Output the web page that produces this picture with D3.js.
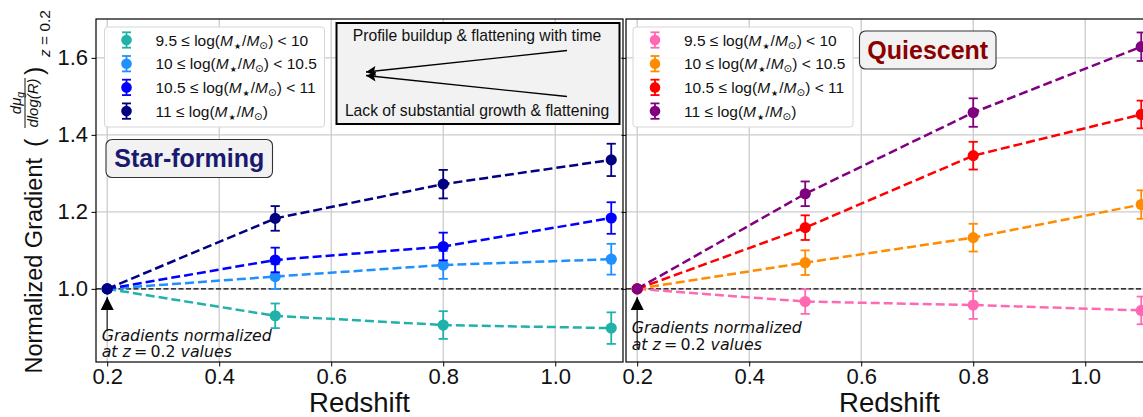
<!DOCTYPE html>
<html lang="en">
<head>
<meta charset="UTF-8">
<title>gradient-evolution</title>
<script src="https://d3js.org/d3.v7.min.js"></script>
<style>
    body { margin: 0; background: #fff; }
    svg { font-family: "Liberation Sans", Arial, Helvetica, sans-serif; }
    .note { font-family: "DejaVu Sans", sans-serif; font-style: italic; }
</style>
</head>
<body>
<script>

// ---- data ----
const redshift = [0.2, 0.5, 0.8, 1.1];
const binLabels = [["9.5", "10"], ["10", "10.5"], ["10.5", "11"], ["11", null]];

const sfColors = ["#20b2aa", "#1e90ff", "#0000ff", "#000080"];
const sfValues = [
    [1.0, 0.930, 0.906, 0.898],
    [1.0, 1.032, 1.062, 1.077],
    [1.0, 1.075, 1.110, 1.184],
    [1.0, 1.183, 1.272, 1.335]
];
const sfErrors = [
    [0, 0.032, 0.036, 0.041],
    [0, 0.032, 0.036, 0.040],
    [0, 0.032, 0.036, 0.041],
    [0, 0.032, 0.037, 0.042]
];

const qColors = ["#ff69b4", "#ff8c00", "#ff0000", "#800080"];
const qValues = [
    [1.0, 0.967, 0.958, 0.944],
    [1.0, 1.068, 1.133, 1.219],
    [1.0, 1.159, 1.346, 1.453],
    [1.0, 1.247, 1.458, 1.629]
];
const qErrors = [
    [0, 0.032, 0.036, 0.036],
    [0, 0.032, 0.036, 0.037],
    [0, 0.032, 0.036, 0.036],
    [0, 0.032, 0.037, 0.037]
];

const xTicks = [0.2, 0.4, 0.6, 0.8, 1.0];
const yTicks = [1.0, 1.2, 1.4, 1.6];

// ---- layout ----
const width = 1143, height = 417;
const plotTop = 19, plotBottom = 362, pw = 527;
const gridColor = "#cbcbcb";

const svg = d3.select("body").append("svg")
    .attr("width", width).attr("height", height);

const defs = svg.append("defs");
defs.append("marker").attr("id", "head")
    .attr("viewBox", "0 0 10 10").attr("refX", 10).attr("refY", 5)
    .attr("markerUnits", "userSpaceOnUse")
    .attr("markerWidth", 13).attr("markerHeight", 10).attr("orient", "auto")
    .append("path").attr("d", "M0,0 L10,5 L0,10 L2,5 z").attr("fill", "black");
defs.append("marker").attr("id", "uphead")
    .attr("viewBox", "0 0 10 10").attr("refX", 10).attr("refY", 5)
    .attr("markerUnits", "userSpaceOnUse")
    .attr("markerWidth", 13).attr("markerHeight", 14).attr("orient", "auto")
    .append("path").attr("d", "M0,0 L10,5 L0,10 z").attr("fill", "black");

const y = d3.scaleLinear().domain([0.81, 1.701]).range([plotBottom, plotTop]);

function panel(left, values, errors, colors, showLabels) {
    const x = d3.scaleLinear().domain([0.18, 1.121]).range([left, left + pw]);
    const g = svg.append("g");

    // grid
    g.selectAll(".gx").data(xTicks).join("line")
        .attr("x1", d => x(d)).attr("x2", d => x(d))
        .attr("y1", plotTop).attr("y2", plotBottom)
        .attr("stroke", gridColor).attr("stroke-width", 1.3);
    g.selectAll(".gy").data(yTicks).join("line")
        .attr("x1", left).attr("x2", left + pw)
        .attr("y1", d => y(d)).attr("y2", d => y(d))
        .attr("stroke", gridColor).attr("stroke-width", 1.3);

    // reference line at 1
    g.append("line")
        .attr("x1", left).attr("x2", left + pw)
        .attr("y1", y(1)).attr("y2", y(1))
        .attr("stroke", "black").attr("stroke-width", 1.3)
        .attr("stroke-dasharray", "5,2.5");

    // axes
    const ax = g.append("g").attr("transform", `translate(0,${plotBottom})`)
        .call(d3.axisBottom(x).tickValues(xTicks).tickFormat(d3.format(".1f"))
            .tickSize(4.5).tickPadding(2).tickSizeOuter(0));
    const ay = g.append("g").attr("transform", `translate(${left},0)`)
        .call(d3.axisLeft(y).tickValues(yTicks)
            .tickFormat(showLabels ? d3.format(".1f") : () => "")
            .tickSize(4.5).tickPadding(3.5).tickSizeOuter(0));
    [ax, ay].forEach(a => {
        a.select(".domain").remove();
        a.selectAll("text").attr("font-size", 22).attr("fill", "#111")
            .attr("font-family", "Liberation Sans, Arial, sans-serif");
        a.selectAll(".tick line").attr("stroke", "black");
    });

    // series
    const line = d3.line().x(d => x(d.z)).y(d => y(d.v));
    values.forEach((vals, i) => {
        const c = colors[i];
        const pts = redshift.map((z, j) => ({ z: z, v: vals[j], e: errors[i][j] }));
        g.append("path").datum(pts).attr("d", line)
            .attr("fill", "none").attr("stroke", c)
            .attr("stroke-width", 2.5).attr("stroke-dasharray", "9,4");
        const eb = g.append("g").attr("stroke", c).attr("stroke-width", 1.8);
        pts.filter(d => d.e > 0).forEach(d => {
            eb.append("line").attr("x1", x(d.z)).attr("x2", x(d.z))
                .attr("y1", y(d.v - d.e)).attr("y2", y(d.v + d.e));
            [d.v - d.e, d.v + d.e].forEach(v => {
                eb.append("line").attr("x1", x(d.z) - 4.6).attr("x2", x(d.z) + 4.6)
                    .attr("y1", y(v)).attr("y2", y(v));
            });
        });
        g.selectAll(null).data(pts).join("circle")
            .attr("cx", d => x(d.z)).attr("cy", d => y(d.v)).attr("r", 5.6)
            .attr("fill", c);
    });

    // frame
    g.append("rect").attr("x", left).attr("y", plotTop)
        .attr("width", pw).attr("height", plotBottom - plotTop)
        .attr("fill", "none").attr("stroke", "black").attr("stroke-width", 1.2);

    return { g: g, x: x };
}

function legend(lx, colors) {
    const lg = svg.append("g");
    lg.append("rect").attr("x", lx).attr("y", 27).attr("width", 220).attr("height", 100)
        .attr("rx", 3).attr("fill", "white").attr("fill-opacity", 0.9)
        .attr("stroke", "#d6d6d6");
    binLabels.forEach((b, i) => {
        const cy = 40 + i * 23.7, mx = lx + 22, c = colors[i];
        lg.append("line").attr("x1", mx).attr("x2", mx).attr("y1", cy - 7.7).attr("y2", cy + 7.7)
            .attr("stroke", c).attr("stroke-width", 1.8);
        [cy - 7.7, cy + 7.7].forEach(v => lg.append("line")
            .attr("x1", mx - 4.5).attr("x2", mx + 4.5).attr("y1", v).attr("y2", v)
            .attr("stroke", c).attr("stroke-width", 1.8));
        lg.append("circle").attr("cx", mx).attr("cy", cy).attr("r", 5.3).attr("fill", c);

        const t = lg.append("text").attr("x", lx + 51).attr("y", cy + 5.5)
            .attr("font-size", 15.5).attr("fill", "#111");
        t.append("tspan").text(b[0] + " ≤ log(");
        t.append("tspan").attr("font-style", "italic").text("M");
        t.append("tspan").attr("font-size", 8).attr("dy", 3).attr("dx", 1)
            .attr("font-family", "DejaVu Sans, sans-serif").text("★");
        t.append("tspan").attr("dy", -3).attr("dx", 1).text("/");
        t.append("tspan").attr("font-style", "italic").text("M");
        t.append("tspan").attr("font-size", 10.5).attr("dy", 3)
            .attr("font-family", "DejaVu Sans, sans-serif").text("⊙");
        t.append("tspan").attr("dy", -3).text(")" + (b[1] ? " < " + b[1] : ""));
    });
}

function tagBox(bx, by, bw, bh, label, color) {
    svg.append("rect").attr("x", bx).attr("y", by).attr("width", bw).attr("height", bh)
        .attr("rx", 6).attr("fill", "#f2f2f2").attr("stroke", "#333").attr("stroke-width", 1.1);
    svg.append("text").attr("x", bx + bw / 2).attr("y", by + bh / 2 + 8.5)
        .attr("text-anchor", "middle").attr("font-size", 25).attr("font-weight", "bold")
        .attr("fill", color).text(label);
}

function note(g, x0, tipY, tailY, textY) {
    g.append("line").attr("x1", x0).attr("x2", x0).attr("y1", tailY).attr("y2", tipY)
        .attr("stroke", "#333").attr("stroke-width", 1.3).attr("marker-end", "url(#uphead)");
    g.append("text").attr("class", "note").attr("font-size", 15.8).attr("fill", "#111")
        .attr("x", x0 - 5.5).attr("y", textY).text("Gradients normalized");
    const l2 = g.append("text").attr("class", "note").attr("font-size", 15.8).attr("fill", "#111")
        .attr("x", x0 - 5.5).attr("y", textY + 16.8);
    l2.append("tspan").text("at ");
    l2.append("tspan").text("z");
    l2.append("tspan").attr("font-style", "normal").text("\u2009=\u20090.2 ");
    l2.append("tspan").text("values");
}

const pL = panel(96, sfValues, sfErrors, sfColors, true);
const pR = panel(626, qValues, qErrors, qColors, false);

note(pL.g, pL.x(0.2), 297, 331, 340.5);
note(pR.g, pR.x(0.2), 297, 348, 333);

legend(104.5, sfColors);
legend(633, qColors);

tagBox(106, 139.5, 166.5, 38, "Star-forming", "#191970");
tagBox(859.5, 31, 136.5, 38, "Quiescent", "#8b0000");

// annotation box with arrows
svg.append("rect").attr("x", 336.5).attr("y", 23).attr("width", 283).attr("height", 101)
    .attr("fill", "#f2f2f2").attr("stroke", "black").attr("stroke-width", 2);
svg.append("text").attr("x", 477).attr("y", 40.5).attr("text-anchor", "middle")
    .attr("font-size", 15.7).attr("fill", "#111").text("Profile buildup & flattening with time");
svg.append("text").attr("x", 477).attr("y", 115.5).attr("text-anchor", "middle")
    .attr("font-size", 15.7).attr("fill", "#111").text("Lack of substantial growth & flattening");
svg.append("line").attr("x1", 567).attr("y1", 50.5).attr("x2", 366).attr("y2", 72)
    .attr("stroke", "black").attr("stroke-width", 1.3).attr("marker-end", "url(#head)");
svg.append("line").attr("x1", 567).attr("y1", 96.5).attr("x2", 366).attr("y2", 75.5)
    .attr("stroke", "black").attr("stroke-width", 1.3).attr("marker-end", "url(#head)");

// x labels
[pL, pR].forEach(p => {
    svg.append("text").attr("x", (p.x.range()[0] + p.x.range()[1]) / 2).attr("y", 412)
        .attr("text-anchor", "middle").attr("font-size", 27.5).attr("fill", "#111").text("Redshift");
});

// y label, rotated; local x runs up the page, local y to the right
const yl = svg.append("g").attr("transform", "translate(42,0) rotate(-90)").attr("fill", "#111");
yl.append("text").attr("x", -158).attr("y", 0).attr("text-anchor", "end")
    .attr("font-size", 23.5).text("Normalized Gradient");
yl.append("text").attr("x", -147).attr("y", 1).attr("font-size", 25).text("(");
yl.append("line").attr("x1", -128).attr("x2", -78).attr("y1", -17).attr("y2", -17)
    .attr("stroke", "#111").attr("stroke-width", 1);
const num = yl.append("text").attr("x", -103).attr("y", -21).attr("text-anchor", "middle")
    .attr("font-size", 15).attr("font-style", "italic");
num.append("tspan").text("dμ");
num.append("tspan").attr("font-size", 10.5).attr("dy", 3).text("g");
yl.append("text").attr("x", -103).attr("y", -4).attr("text-anchor", "middle")
    .attr("font-size", 15).attr("font-style", "italic").text("dlog(R)");
yl.append("text").attr("x", -75).attr("y", 1).attr("font-size", 25).text(")");
const sub = yl.append("text").attr("x", -57).attr("y", 8).attr("font-size", 15.5);
sub.append("tspan").attr("font-style", "italic").text("z");
sub.append("tspan").text(" = 0.2");

</script>
</body>
</html>
